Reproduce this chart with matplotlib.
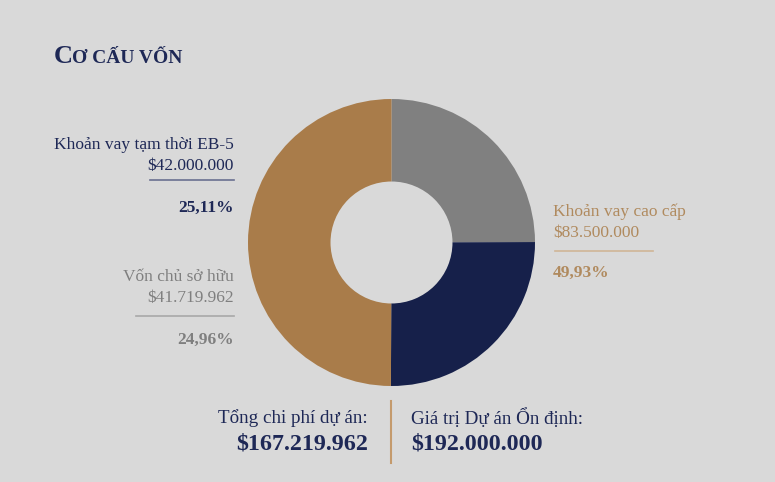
import matplotlib
matplotlib.use("Agg")
import matplotlib.pyplot as plt

# Data
categories = ["Vốn chủ sở hữu", "Khoản vay tạm thời EB-5", "Khoản vay cao cấp"]
amounts = [41719962, 42000000, 83500000]
amount_labels = ["$41.719.962", "$42.000.000", "$83.500.000"]
pct_labels = ["24,96%", "25,11%", "49,93%"]
total_cost_label = "Tổng chi phí dự án:"
total_cost = "$167.219.962"
stab_value_label = "Giá trị Dự án Ổn định:"
stab_value = "$192.000.000"

BG = "#d9d9d9"
GRAY = "#808080"
NAVY = "#16204a"
GOLD = "#a97c4a"
NAVY_TXT = "#1e2856"
GRAY_TXT = "#7f7f7f"
GOLD_TXT = "#b08a5e"

W, H = 775, 482
fig = plt.figure(figsize=(W / 100, H / 100), dpi=100, facecolor=BG)
SERIF = ["Liberation Serif", "DejaVu Serif"]

# Donut
cx, cy, r = 391.5, 242.5, 143.5
axp = fig.add_axes([(cx - r) / W, (H - cy - r) / H, 2 * r / W, 2 * r / H])
axp.set_facecolor(BG)
axp.pie(amounts, colors=[GRAY, NAVY, GOLD], startangle=90, counterclock=False,
        radius=1.0, wedgeprops=dict(width=0.575, edgecolor="none", linewidth=0))
axp.set_xlim(-1, 1)
axp.set_ylim(-1, 1)
axp.axis("off")

# Overlay in pixel coords
ax = fig.add_axes([0, 0, 1, 1], facecolor="none")
ax.set_xlim(0, W)
ax.set_ylim(H, 0)
ax.axis("off")

# Title (small caps imitation)
ax.text(54, 63, "C", fontsize=19, fontweight="bold", color=NAVY_TXT, family=SERIF, ha="left", va="baseline")
ax.text(72, 63, "Ơ CẤU VỐN", fontsize=14, fontweight="bold", color=NAVY_TXT, family=SERIF, ha="left", va="baseline")

LBL = 12.5
# EB-5 (left top)
ax.text(234, 145, categories[1], fontsize=LBL, color=NAVY_TXT, family=SERIF, ha="right", va="center")
ax.text(234, 166, amount_labels[1], fontsize=LBL, color=NAVY_TXT, family=SERIF, ha="right", va="center")
ax.plot([150, 234], [180, 180], color="#6a7090", lw=1.2)
ax.text(234, 208, pct_labels[1], fontsize=LBL, fontweight="bold", color=NAVY_TXT, family=SERIF, ha="right", va="center")

# Equity (left bottom)
ax.text(234, 277, categories[0], fontsize=LBL, color=GRAY_TXT, family=SERIF, ha="right", va="center")
ax.text(234, 298, amount_labels[0], fontsize=LBL, color=GRAY_TXT, family=SERIF, ha="right", va="center")
ax.plot([136, 234], [316, 316], color="#a8a8a8", lw=1.2)
ax.text(234, 340, pct_labels[0], fontsize=LBL, fontweight="bold", color=GRAY_TXT, family=SERIF, ha="right", va="center")

# Senior loan (right)
ax.text(553, 212, categories[2], fontsize=LBL, color=GOLD_TXT, family=SERIF, ha="left", va="center")
ax.text(553, 233, amount_labels[2], fontsize=LBL, color=GOLD_TXT, family=SERIF, ha="left", va="center")
ax.plot([555, 653], [251, 251], color="#d0b596", lw=1.2)
ax.text(553, 273, pct_labels[2], fontsize=LBL, fontweight="bold", color=GOLD_TXT, family=SERIF, ha="left", va="center")

# Bottom totals
ax.text(368, 418, total_cost_label, fontsize=13.7, color=NAVY_TXT, family=SERIF, ha="right", va="center")
ax.text(368, 444, total_cost, fontsize=17.3, fontweight="bold", color=NAVY_TXT, family=SERIF, ha="right", va="center")
ax.plot([391, 391], [401, 463], color="#c49a6c", lw=1.5)
ax.text(411, 418, stab_value_label, fontsize=13.7, color=NAVY_TXT, family=SERIF, ha="left", va="center")
ax.text(411, 444, stab_value, fontsize=17.3, fontweight="bold", color=NAVY_TXT, family=SERIF, ha="left", va="center")

fig.savefig("out.png", dpi=100, facecolor=BG)
